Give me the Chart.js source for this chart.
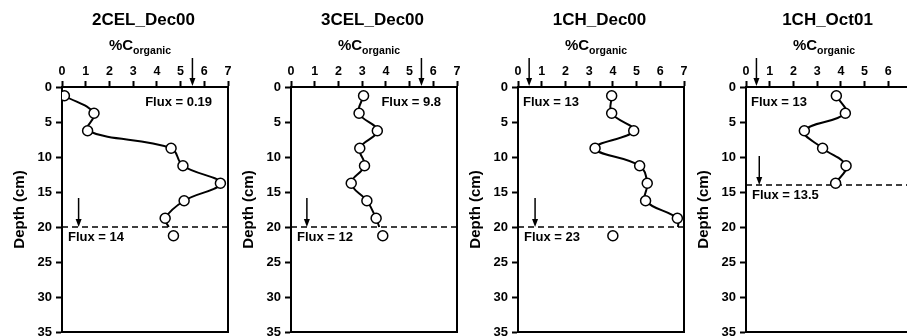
<!DOCTYPE html>
<html>
<head>
<meta charset="utf-8">
<script src="https://cdn.jsdelivr.net/npm/chart.js@4/dist/chart.umd.min.js"></script>
<style>
  html, body { margin: 0; padding: 0; background: #fff; }
  #wrap { position: relative; width: 907px; height: 336px; overflow: hidden; background: #fff; }
  #wrap canvas { position: absolute; top: 0; }
</style>
</head>
<body>
<div id="wrap"></div>
<script>
// sampling depths (cm), one core slice every 2.5 cm
const depths = [1.25, 3.75, 6.25, 8.75, 11.25, 13.75, 16.25, 18.75, 21.25];

const panelNames = ['2CEL_Dec00', '3CEL_Dec00', '1CH_Dec00', '1CH_Oct01'];

// % organic carbon per slice
const corgCEL2Dec00 = [0.1, 1.35, 1.08, 4.6, 5.1, 6.68, 5.15, 4.35, 4.7];
const corgCEL3Dec00 = [3.06, 2.87, 3.64, 2.9, 3.1, 2.54, 3.2, 3.59, 3.87];
const corgCH1Dec00 = [3.95, 3.95, 4.88, 3.25, 5.13, 5.45, 5.38, 6.72, 4.0];
const corgCH1Oct01 = [3.81, 4.19, 2.46, 3.23, 4.22, 3.78];
const series = [corgCEL2Dec00, corgCEL3Dec00, corgCH1Dec00, corgCH1Oct01];

const connectedCount = [8, 8, 8, 6];          // slices joined by the profile curve
const curveEndC = [4.5, 3.72, 6.75, null];    // where the curve meets the boundary
const boundaryDepth = [20, 20, 20, 14];

const topFlux = ['Flux = 0.19', 'Flux = 9.8', 'Flux = 13', 'Flux = 13'];
const bottomFlux = ['Flux = 14', 'Flux = 12', 'Flux = 23', 'Flux = 13.5'];
const topArrowC = [5.5, 5.5, 0.47, 0.44];
const bottomArrowC = [0.7, 0.67, 0.72, 0.56];

const xTicksMax = 7;
const depthMax = 35;

const FONT = '"Liberation Sans", Arial, Helvetica, sans-serif';
Chart.defaults.font.family = FONT;
Chart.defaults.color = '#000';

const panelLeft = [62, 291, 518, 746];

function drawArrow(ctx, px, y0, y1) {
  ctx.beginPath();
  ctx.moveTo(px, y0);
  ctx.lineTo(px, y1 - 6);
  ctx.lineWidth = 1.5;
  ctx.stroke();
  ctx.beginPath();
  ctx.moveTo(px - 3, y1 - 8);
  ctx.lineTo(px + 3, y1 - 8);
  ctx.lineTo(px, y1);
  ctx.closePath();
  ctx.fill();
}

const decor = {
  id: 'decor',
  afterDraw(chart, args, o) {
    const { ctx, chartArea: a, scales: { x, y } } = chart;
    const cx = (a.left + a.right) / 2;
    ctx.save();
    ctx.fillStyle = '#000';
    ctx.strokeStyle = '#000';

    // right and bottom sides of the frame
    ctx.lineWidth = 2;
    ctx.beginPath();
    ctx.moveTo(a.right, a.top);
    ctx.lineTo(a.right, a.bottom);
    ctx.lineTo(a.left, a.bottom);
    ctx.stroke();

    // panel title
    ctx.font = 'bold 17px ' + FONT;
    ctx.textAlign = 'center';
    ctx.textBaseline = 'alphabetic';
    ctx.fillText(o.title, cx - 1.5, 25);

    // %C with subscript
    ctx.textAlign = 'left';
    ctx.font = 'bold 15px ' + FONT;
    const w1 = ctx.measureText('%C').width;
    ctx.font = 'bold 10.5px ' + FONT;
    const w2 = ctx.measureText('organic').width;
    const sx = cx - 5 - (w1 + w2) / 2;
    ctx.font = 'bold 15px ' + FONT;
    ctx.fillText('%C', sx, 49.5);
    ctx.font = 'bold 10.5px ' + FONT;
    ctx.fillText('organic', sx + w1, 54);

    // depth axis title
    ctx.save();
    ctx.translate(a.left - 42.5, (a.top + a.bottom) / 2);
    ctx.rotate(-Math.PI / 2);
    ctx.font = 'bold 15px ' + FONT;
    ctx.textAlign = 'center';
    ctx.textBaseline = 'middle';
    ctx.fillText('Depth (cm)', 0, 0);
    ctx.restore();

    // flux arrows
    const topPx = x.getPixelForValue(o.topArrow);
    drawArrow(ctx, topPx, a.top - 29, a.top - 1);
    const bY = y.getPixelForValue(o.boundary);
    drawArrow(ctx, x.getPixelForValue(o.bottomArrow), bY - 29, bY);

    // flux labels
    ctx.font = 'bold 13px ' + FONT;
    ctx.textBaseline = 'middle';
    if (o.topArrow > xTicksMax / 2) {
      ctx.textAlign = 'right';
      ctx.fillText(o.topFlux, a.right - 16, a.top + 15);
    } else {
      ctx.textAlign = 'left';
      ctx.fillText(o.topFlux, a.left + 5, a.top + 15);
    }
    ctx.textAlign = 'left';
    ctx.fillText(o.bottomFlux, a.left + 6, bY + 10.5);
    ctx.restore();
  }
};

const wrap = document.getElementById('wrap');

panelNames.forEach((name, i) => {
  const vals = series[i];
  const n = connectedCount[i];
  const profile = depths.slice(0, n).map((d, k) => ({ x: vals[k], y: d }));
  const radii = profile.map(() => 5);
  if (curveEndC[i] !== null) {
    profile.push({ x: curveEndC[i], y: boundaryDepth[i] });
    radii.push(0);
  }
  const loose = vals.slice(n).map((v, k) => ({ x: v, y: depths[n + k] }));
  const boundary = [{ x: 0, y: boundaryDepth[i] }, { x: xTicksMax, y: boundaryDepth[i] }];

  const canvas = document.createElement('canvas');
  canvas.width = 236;
  canvas.height = 345;
  canvas.style.left = (panelLeft[i] - 62) + 'px';
  wrap.appendChild(canvas);

  new Chart(canvas, {
    type: 'scatter',
    data: {
      datasets: [
        {
          data: profile,
          showLine: true,
          tension: 0.4,
          borderColor: '#000',
          borderWidth: 2,
          pointRadius: radii,
          pointBackgroundColor: '#fff',
          pointBorderColor: '#000',
          pointBorderWidth: 1.5
        },
        {
          data: loose,
          showLine: false,
          pointRadius: 5,
          pointBackgroundColor: '#fff',
          pointBorderColor: '#000',
          pointBorderWidth: 1.5
        },
        {
          data: boundary,
          showLine: true,
          borderColor: '#000',
          borderWidth: 1.5,
          borderDash: [6, 4],
          pointRadius: 0
        }
      ]
    },
    options: {
      responsive: false,
      animation: false,
      devicePixelRatio: 1,
      layout: { padding: { top: 57, right: 8, bottom: 13, left: 0 } },
      plugins: {
        legend: { display: false },
        tooltip: { enabled: false },
        decor: {
          title: name,
          topFlux: topFlux[i],
          bottomFlux: bottomFlux[i],
          topArrow: topArrowC[i],
          bottomArrow: bottomArrowC[i],
          boundary: boundaryDepth[i]
        }
      },
      scales: {
        x: {
          type: 'linear',
          position: 'top',
          min: 0,
          max: xTicksMax,
          ticks: { stepSize: 1, padding: 2, color: '#000', font: { size: 12.5, weight: 'bold' } },
          grid: { drawOnChartArea: false, tickLength: 6, tickWidth: 2, tickColor: '#000' },
          border: { color: '#000', width: 2 },
          afterFit: s => { s.height = 30; }
        },
        y: {
          type: 'linear',
          reverse: true,
          min: 0,
          max: depthMax,
          ticks: { stepSize: 5, padding: 4, color: '#000', font: { size: 13, weight: 'bold' } },
          grid: { drawOnChartArea: false, tickLength: 6, tickWidth: 2, tickColor: '#000' },
          border: { color: '#000', width: 2 },
          afterFit: s => { s.width = 62; }
        }
      }
    },
    plugins: [decor]
  });
});
</script>
</body>
</html>
